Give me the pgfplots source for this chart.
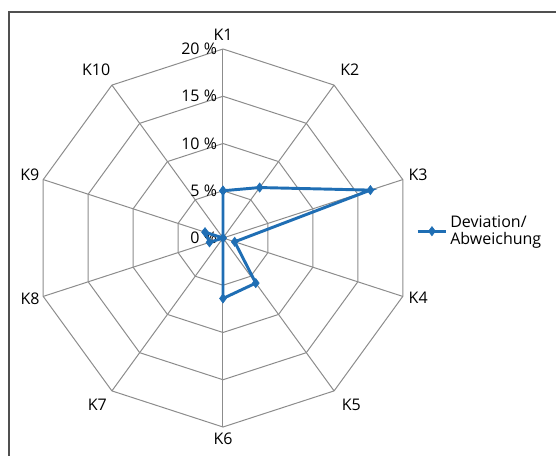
\documentclass[border=0pt]{standalone}
\usepackage{pgfplots}
\pgfplotsset{compat=1.18}
\usepgfplotslibrary{polar}
\usepackage{fontspec}
\setmainfont{Open Sans}
\definecolor{serblue}{RGB}{31,110,180}
\definecolor{gridgray}{RGB}{140,140,140}
\definecolor{framegray}{RGB}{80,80,80}
\begin{document}
\begin{tikzpicture}
\useasboundingbox (-167.25pt,-163.5pt) rectangle (249.75pt,178.5pt);
\draw[framegray, line width=1.4pt] (-160.5pt,-175pt) -- (-160.5pt,169.5pt) -- (260pt,169.5pt);
\begin{polaraxis}[
  at={(0,0)}, anchor=center,
  scale only axis, width=283.5pt,
  ymin=0, ymax=20,
  hide axis,
  clip=false,
  font=\fontsize{12}{14}\selectfont,
  legend style={at={(1.0,0.518)}, anchor=west, draw=none, fill=none,
    font=\fontsize{12}{13}\selectfont, cells={align=left, anchor=west},
    legend image post style={line width=2.2pt}},
  legend image code/.code={
    \draw[#1] (0cm,0cm) -- (0.75cm,0cm);
    \draw[#1, mark repeat=1] plot coordinates {(0.375cm,0cm)};
  },
]
% grid polygons
\addplot[gridgray, line width=0.75pt, mark=none, forget plot] coordinates {(90,5) (54,5) (18,5) (-18,5) (-54,5) (-90,5) (-126,5) (-162,5) (162,5) (126,5) (90,5)};
\addplot[gridgray, line width=0.75pt, mark=none, forget plot] coordinates {(90,10) (54,10) (18,10) (-18,10) (-54,10) (-90,10) (-126,10) (-162,10) (162,10) (126,10) (90,10)};
\addplot[gridgray, line width=0.75pt, mark=none, forget plot] coordinates {(90,15) (54,15) (18,15) (-18,15) (-54,15) (-90,15) (-126,15) (-162,15) (162,15) (126,15) (90,15)};
\addplot[gridgray, line width=0.75pt, mark=none, forget plot] coordinates {(90,20) (54,20) (18,20) (-18,20) (-54,20) (-90,20) (-126,20) (-162,20) (162,20) (126,20) (90,20)};
% spokes
\addplot[gridgray, line width=0.75pt, mark=none, forget plot] coordinates {(90,0) (90,20)};
\addplot[gridgray, line width=0.75pt, mark=none, forget plot] coordinates {(54,0) (54,20)};
\addplot[gridgray, line width=0.75pt, mark=none, forget plot] coordinates {(18,0) (18,20)};
\addplot[gridgray, line width=0.75pt, mark=none, forget plot] coordinates {(-18,0) (-18,20)};
\addplot[gridgray, line width=0.75pt, mark=none, forget plot] coordinates {(-54,0) (-54,20)};
\addplot[gridgray, line width=0.75pt, mark=none, forget plot] coordinates {(-90,0) (-90,20)};
\addplot[gridgray, line width=0.75pt, mark=none, forget plot] coordinates {(-126,0) (-126,20)};
\addplot[gridgray, line width=0.75pt, mark=none, forget plot] coordinates {(-162,0) (-162,20)};
\addplot[gridgray, line width=0.75pt, mark=none, forget plot] coordinates {(162,0) (162,20)};
\addplot[gridgray, line width=0.75pt, mark=none, forget plot] coordinates {(126,0) (126,20)};
% percent labels
\node[anchor=east, xshift=-1pt] at (axis cs:90,20) {20 \%};
\node[anchor=east, xshift=-1pt] at (axis cs:90,15) {15 \%};
\node[anchor=east, xshift=-1pt] at (axis cs:90,10) {10 \%};
\node[anchor=east, xshift=-1pt] at (axis cs:90,5) {5 \%};
\node[anchor=east, xshift=-1pt] at (axis cs:90,0) {0 \%};
% category labels
\node at (axis cs:90,21.5) {K1};
\node at (axis cs:53,22.3) {K2};
\node at (axis cs:18,21.7) {K3};
\node at (axis cs:-17,21.6) {K4};
\node at (axis cs:-52.5,22.3) {K5};
\node at (axis cs:-90,21.2) {K6};
\node at (axis cs:-127,22.1) {K7};
\node at (axis cs:-162.5,21.4) {K8};
\node at (axis cs:162,21.5) {K9};
\node at (axis cs:127,22.3) {K10};
% data
\addplot[serblue, line width=2.2pt, mark=diamond*, mark size=3.4pt, mark options={solid, fill=serblue, line width=0.5pt}]
  coordinates {(90,5.0) (54,6.6) (18,16.4) (-18,1.3) (-54,5.9) (-90,6.4) (-126,0) (-162,1.5) (162,2.0) (126,0) (90,5.0)};
\addlegendentry{Deviation/\\Abweichung}
\end{polaraxis}
\end{tikzpicture}
\end{document}
